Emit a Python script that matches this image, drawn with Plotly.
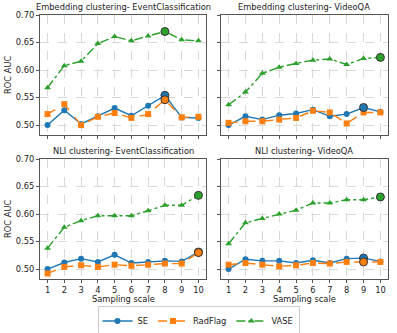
import plotly.graph_objects as go

# サンプリングスケール
scales = [1, 2, 3, 4, 5, 6, 7, 8, 9, 10]

titles = [
    "Embedding clustering- EventClassification",
    "Embedding clustering- VideoQA",
    "NLI clustering- EventClassification",
    "NLI clustering- VideoQA",
]

# 各パネルの値 (SE, RadFlag, VASE)
se_emb_ec = [0.500, 0.527, 0.502, 0.516, 0.531, 0.517, 0.535, 0.554, 0.514, 0.513]
rf_emb_ec = [0.520, 0.538, 0.500, 0.515, 0.522, 0.513, 0.520, 0.546, 0.514, 0.515]
vase_emb_ec = [0.568, 0.608, 0.616, 0.648, 0.661, 0.653, 0.662, 0.670, 0.655, 0.653]

se_emb_vqa = [0.500, 0.516, 0.510, 0.518, 0.521, 0.528, 0.516, 0.520, 0.532, 0.524]
rf_emb_vqa = [0.504, 0.507, 0.507, 0.510, 0.513, 0.526, 0.523, 0.503, 0.523, 0.523]
vase_emb_vqa = [0.537, 0.560, 0.594, 0.605, 0.612, 0.618, 0.620, 0.610, 0.621, 0.623]

se_nli_ec = [0.500, 0.512, 0.519, 0.513, 0.526, 0.511, 0.513, 0.515, 0.514, 0.531]
rf_nli_ec = [0.492, 0.504, 0.507, 0.504, 0.508, 0.506, 0.508, 0.510, 0.510, 0.530]
vase_nli_ec = [0.538, 0.576, 0.588, 0.597, 0.597, 0.597, 0.606, 0.616, 0.616, 0.634]

se_nli_vqa = [0.500, 0.518, 0.515, 0.515, 0.511, 0.516, 0.511, 0.519, 0.520, 0.514]
rf_nli_vqa = [0.508, 0.511, 0.508, 0.505, 0.507, 0.511, 0.510, 0.513, 0.513, 0.513]
vase_nli_vqa = [0.546, 0.584, 0.592, 0.600, 0.607, 0.620, 0.620, 0.626, 0.626, 0.631]

# 強調表示する点 (scale) : SE, RadFlag, VASE
best_emb_ec = [8, 8, 8]
best_emb_vqa = [9, None, 10]
best_nli_ec = [10, 10, 10]
best_nli_vqa = [9, 9, 10]

panels = [
    (se_emb_ec, rf_emb_ec, vase_emb_ec, best_emb_ec),
    (se_emb_vqa, rf_emb_vqa, vase_emb_vqa, best_emb_vqa),
    (se_nli_ec, rf_nli_ec, vase_nli_ec, best_nli_ec),
    (se_nli_vqa, rf_nli_vqa, vase_nli_vqa, best_nli_vqa),
]

##############################################################
W, H = 397, 333
x_doms = [[40 / W, 206 / W], [221 / W, 388 / W]]
y_doms = [[1 - 135 / H, 1 - 15 / H], [1 - 279 / H, 1 - 159 / H]]
FONT = "DejaVu Sans"

styles = [
    ("SE", "#1f77b4", "solid", "circle"),
    ("RadFlag", "#ff7f0e", "dash", "square"),
    ("VASE", "#2ca02c", "dashdot", "triangle-up"),
]

fig = go.Figure()
layout = {}
for i, (se, rf, vase, best) in enumerate(panels):
    r, c = divmod(i, 2)
    n = i + 1
    xa = "x" if n == 1 else "x%d" % n
    ya = "y" if n == 1 else "y%d" % n
    for k, (name, color, dash, symbol) in enumerate(styles):
        vals = [se, rf, vase][k]
        fig.add_trace(go.Scatter(
            x=scales, y=vals, xaxis=xa, yaxis=ya, name=name, mode="lines+markers",
            line=dict(color=color, width=1.4, dash=dash),
            marker=dict(symbol=symbol, size=6, color=color),
            showlegend=(i == 0), legendgroup=name,
        ))
    # 最良点を丸で強調
    for k, (name, color, dash, symbol) in enumerate(styles):
        b = best[k]
        if b is None:
            continue
        vals = [se, rf, vase][k]
        fig.add_trace(go.Scatter(
            x=[b], y=[vals[b - 1]], xaxis=xa, yaxis=ya, mode="markers",
            marker=dict(symbol="circle", size=8, color=color, line=dict(color="#333333", width=1)),
            showlegend=False, hoverinfo="skip",
        ))
    axis_common = dict(
        showline=True, linecolor="#555555", linewidth=1, mirror=True,
        showgrid=True, gridcolor="#d8d8d8", griddash="dash", gridwidth=1,
        ticks="outside", ticklen=3, tickcolor="#555555", zeroline=False,
        automargin=False,
        tickfont=dict(family=FONT, size=8.3, color="#222222"),
    )
    layout["xaxis" if n == 1 else "xaxis%d" % n] = dict(
        axis_common, domain=x_doms[c], anchor=ya, range=[0.55, 10.45],
        tickvals=scales, showticklabels=(r == 1),
    )
    layout["yaxis" if n == 1 else "yaxis%d" % n] = dict(
        axis_common, domain=y_doms[r], anchor=xa, range=[0.482, 0.70],
        tickvals=[0.50, 0.55, 0.60, 0.65, 0.70], tickformat=".2f",
        showticklabels=(c == 0),
    )

annotations = []
for i, t in enumerate(titles):
    r, c = divmod(i, 2)
    annotations.append(dict(
        text=t, x=sum(x_doms[c]) / 2, y=y_doms[r][1], xref="paper", yref="paper",
        xanchor="center", yanchor="bottom", yshift=1, showarrow=False,
        font=dict(family=FONT, size=8.3, color="#222222"),
    ))
for r in range(2):
    annotations.append(dict(
        text="ROC AUC", x=8 / W, y=sum(y_doms[r]) / 2, xref="paper", yref="paper",
        textangle=-90, showarrow=False, xanchor="center", yanchor="middle",
        font=dict(family=FONT, size=8.3, color="#222222"),
    ))
for c in range(2):
    annotations.append(dict(
        text="Sampling scale", x=sum(x_doms[c]) / 2, y=1 - 299 / H, xref="paper", yref="paper",
        showarrow=False, xanchor="center", yanchor="middle",
        font=dict(family=FONT, size=8.3, color="#222222"),
    ))

fig.update_layout(
    width=W, height=H,
    margin=dict(l=0, r=0, t=0, b=0, autoexpand=False),
    paper_bgcolor="white", plot_bgcolor="white",
    annotations=annotations,
    legend=dict(
        orientation="h", x=0.5, y=1 - 321 / H, xanchor="center", yanchor="middle",
        bordercolor="#cccccc", borderwidth=1,
        font=dict(family=FONT, size=8.3, color="#222222"),
        tracegroupgap=0,
    ),
    **layout,
)

# ページ余白を消す
fig.write_html("out.html", config={"displayModeBar": False},
               post_script="document.body.style.margin='0';")
